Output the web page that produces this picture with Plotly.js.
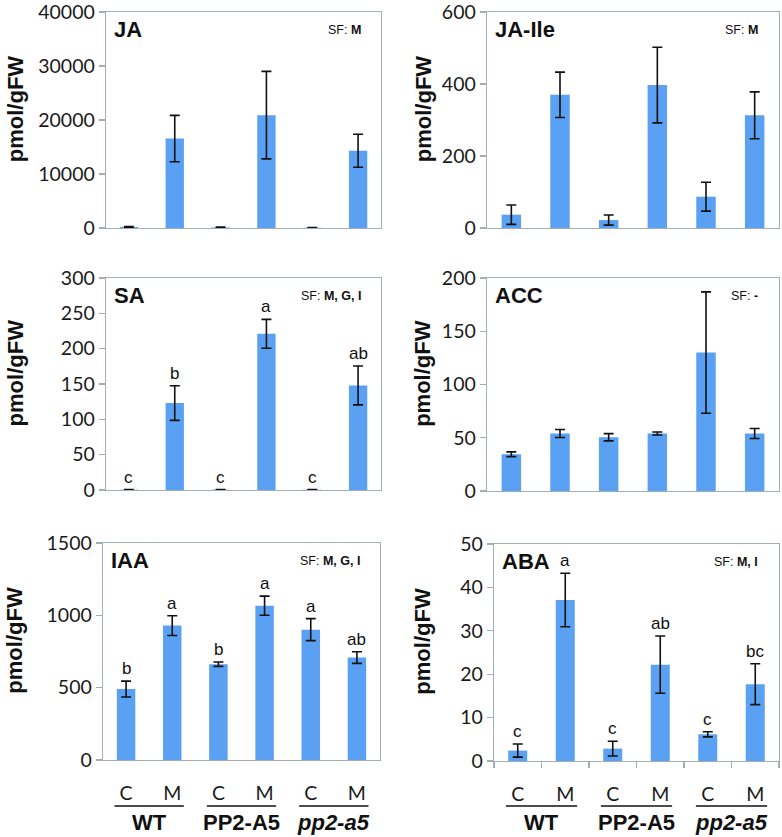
<!DOCTYPE html>
<html>
<head>
<meta charset="utf-8">
<script src="https://cdn.plot.ly/plotly-3.0.1.min.js"></script>
<style>html,body{margin:0;padding:0;background:#fff;}#chart{width:782px;height:837px;}</style>
</head>
<body>
<div id="chart"></div>
<script>
// ---- data ----
const categories = ['WT C', 'WT M', 'PP2-A5 C', 'PP2-A5 M', 'pp2-a5 C', 'pp2-a5 M'];
const tickLabels = ['C', 'M', 'C', 'M', 'C', 'M'];
const groupLabels = ['WT', 'PP2-A5', '<i>pp2-a5</i>'];

const jaValues = [200, 16560, 100, 20900, 40, 14300];
const jaErrors = [80, 4300, 60, 8100, 30, 3050];

const jaIleValues = [37, 370, 22, 397, 87, 313];
const jaIleErrors = [27, 63, 14, 105, 40, 65];

const saValues = [0.5, 123, 0.5, 221, 0.5, 148];
const saErrors = [0, 24.5, 0, 20.5, 0, 27.5];
const saLetters = ['c', 'b', 'c', 'a', 'c', 'ab'];

const accValues = [34.5, 54, 50.5, 54, 130, 54];
const accErrors = [2.2, 3.8, 3.4, 1.4, 57, 4.7];

const iaaValues = [490, 929, 662, 1067, 901, 708];
const iaaErrors = [55, 68, 15, 66, 76, 40];
const iaaLetters = ['b', 'a', 'b', 'a', 'a', 'ab'];

const abaValues = [2.4, 37.1, 2.85, 22.2, 6.15, 17.7];
const abaErrors = [1.5, 6.15, 1.7, 6.6, 0.6, 4.7];
const abaLetters = ['c', 'a', 'c', 'ab', 'c', 'bc'];

const panelNames = ['JA', 'JA-Ile', 'SA', 'ACC', 'IAA', 'ABA'];
const sfLabels = ['M', 'M', 'M, G, I', '-', 'M, G, I', 'M, I'];
const yMax = [40000, 600, 300, 200, 1500, 50];
const yStep = [10000, 200, 50, 50, 500, 10];
const yTitle = 'pmol/gFW';

// ---- layout (pixel geometry) ----
const W = 782, H = 837;
const panels = [
  {v: jaValues, e: jaErrors, L: null, px: [106, 381], py: [12, 228], bottom: false, bticks: false},
  {v: jaIleValues, e: jaIleErrors, L: null, px: [487, 779], py: [12, 228], bottom: false, bticks: false},
  {v: saValues, e: saErrors, L: saLetters, px: [106, 381], py: [278, 490], bottom: false, bticks: false},
  {v: accValues, e: accErrors, L: null, px: [487, 779], py: [278, 491], bottom: false, bticks: false},
  {v: iaaValues, e: iaaErrors, L: iaaLetters, px: [103, 380], py: [543, 760], bottom: true, bticks: false},
  {v: abaValues, e: abaErrors, L: abaLetters, px: [494, 779], py: [544, 761], bottom: true, bticks: true}
];

const barColor = '#5aa1f3';
const frameColor = '#a3afb5';
const tickFont = {family: 'Lato, "Open Sans", sans-serif', size: 19.5, color: '#1a1a1a'};
const arial = 'Arial, "Liberation Sans", sans-serif';

const data = [];
const layout = {
  width: W, height: H,
  margin: {l: 0, r: 0, t: 0, b: 0},
  paper_bgcolor: '#fff', plot_bgcolor: '#fff',
  showlegend: false, bargap: 0.6,
  annotations: [], shapes: []
};

panels.forEach((p, i) => {
  const n = i + 1;
  const xa = 'x' + (n === 1 ? '' : n), ya = 'y' + (n === 1 ? '' : n);
  const xk = 'xaxis' + (n === 1 ? '' : n), yk = 'yaxis' + (n === 1 ? '' : n);
  data.push({
    type: 'bar', x: categories, y: p.v, xaxis: xa, yaxis: ya,
    marker: {color: barColor, line: {width: 0}},
    error_y: {type: 'data', array: p.e, visible: true, color: '#111', thickness: 1.6, width: 5},
    hoverinfo: 'skip'
  });
  layout[xk] = {
    domain: [p.px[0] / W, p.px[1] / W],
    anchor: ya, type: 'category',
    showline: true, mirror: true, linecolor: frameColor, linewidth: 1.3,
    showgrid: false, zeroline: false, fixedrange: true,
    tickmode: 'array', tickvals: categories, ticktext: tickLabels,
    showticklabels: p.bottom,
    ticks: p.bticks ? 'outside' : '', tickson: 'boundaries', ticklen: 6, tickcolor: frameColor, tickwidth: 1.3,
    ticklabelstandoff: 15,
    tickfont: tickFont
  };
  layout[yk] = {
    domain: [1 - p.py[1] / H, 1 - p.py[0] / H],
    anchor: xa, range: [0, yMax[i]],
    tickmode: 'linear', tick0: 0, dtick: yStep[i],
    tickformat: 'd', ticklabeloverflow: 'allow',
    showline: true, mirror: true, linecolor: frameColor, linewidth: 1.3,
    showgrid: false, zeroline: false, fixedrange: true,
    ticks: 'outside', ticklen: 6, tickcolor: frameColor, tickwidth: 1.3,
    tickfont: tickFont
  };
  // panel name
  layout.annotations.push({
    xref: xa + ' domain', yref: ya + ' domain', x: 0.022, y: 0.985,
    xanchor: 'left', yanchor: 'top', showarrow: false,
    text: '<b>' + panelNames[i] + '</b>',
    font: {family: arial, size: 22, color: '#111'}
  });
  // SF label
  layout.annotations.push({
    xref: xa + ' domain', yref: ya + ' domain', x: 0.935, y: 0.915,
    xanchor: 'right', yanchor: 'middle', showarrow: false,
    text: 'SF: <b>' + sfLabels[i] + '</b>',
    font: {family: arial, size: 12.5, color: '#111'}
  });
  // y title
  layout.annotations.push({
    xref: 'paper', yref: ya + ' domain',
    x: (i % 2 === 0 ? 15 : 423) / W, y: 0.55,
    xanchor: 'center', yanchor: 'middle', textangle: -90, showarrow: false,
    text: '<b>' + yTitle + '</b>',
    font: {family: arial, size: 22, color: '#111'}
  });
  // significance letters
  if (p.L) {
    p.L.forEach((t, k) => {
      layout.annotations.push({
        xref: xa, yref: ya, x: categories[k], y: p.v[k] + p.e[k],
        xanchor: 'center', yanchor: 'bottom', yshift: 1, showarrow: false,
        text: t, font: {family: arial, size: 17, color: '#111'}
      });
    });
  }
  // group underlines & labels
  if (p.bottom) {
    groupLabels.forEach((g, k) => {
      layout.shapes.push({
        type: 'line', xref: xa, yref: 'paper',
        x0: 2 * k - 0.25, x1: 2 * k + 1.25, y0: 1 - 806 / H, y1: 1 - 806 / H,
        line: {color: '#111', width: 1.6}
      });
      layout.annotations.push({
        xref: xa, yref: 'paper', x: 2 * k + 0.5, y: 1 - 822 / H,
        xanchor: 'center', yanchor: 'middle', showarrow: false,
        text: '<b>' + g + '</b>',
        font: {family: arial, size: 22, color: '#111'}
      });
    });
  }
});

Plotly.newPlot('chart', data, layout, {staticPlot: true, displayModeBar: false});
</script>
</body>
</html>
